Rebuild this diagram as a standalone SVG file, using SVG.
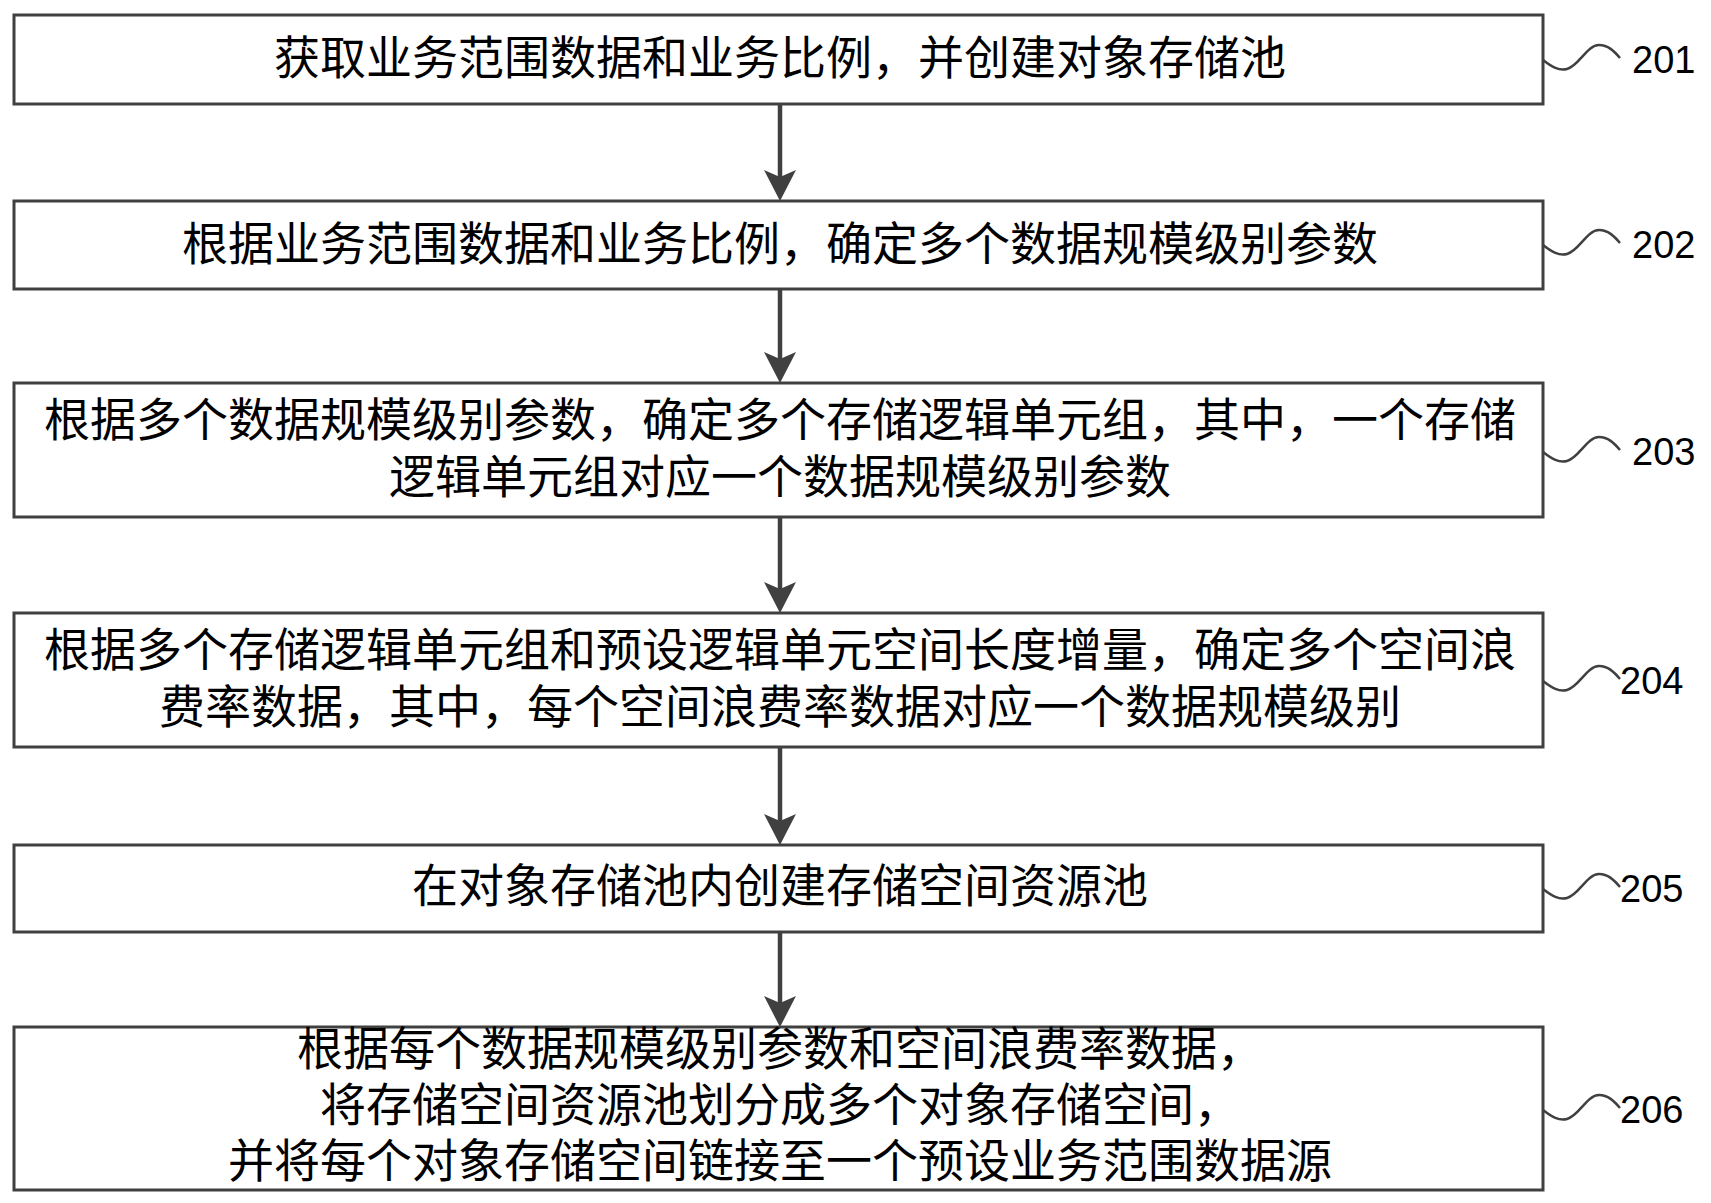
<svg xmlns="http://www.w3.org/2000/svg" width="1711" height="1203" viewBox="0 0 1711 1203">
<defs>
<style>
.box{fill:#fff;stroke:#404040;stroke-width:3}
.t{font-family:"Noto Sans CJK SC","Noto Sans CJK TC",sans-serif;font-size:46px;fill:#000;text-anchor:middle}
.lbl{font-family:"Liberation Sans","Open Sans",sans-serif;font-size:38px;fill:#000}
.wave{fill:none;stroke:#404040;stroke-width:2.5}
.conn{stroke:#404040;stroke-width:4.5;fill:none}
</style>
<marker id="ah" viewBox="0 0 32 32" markerWidth="32" markerHeight="32" refX="7" refY="16" orient="auto" markerUnits="userSpaceOnUse">
<path d="M0,0 L31,16 L0,32 L7,16 Z" fill="#404040"/>
</marker>
</defs>
<rect width="1711" height="1203" fill="#fff"/>
<g id="connectors">
<line class="conn" x1="780" y1="104" x2="780" y2="177" marker-end="url(#ah)"/>
<line class="conn" x1="780" y1="289" x2="780" y2="359" marker-end="url(#ah)"/>
<line class="conn" x1="780" y1="517" x2="780" y2="589" marker-end="url(#ah)"/>
<line class="conn" x1="780" y1="747" x2="780" y2="821" marker-end="url(#ah)"/>
<line class="conn" x1="780" y1="932" x2="780" y2="1003" marker-end="url(#ah)"/>
</g>
<g id="n201">
<rect class="box" x="14" y="15" width="1529" height="89"/>
<text class="t" x="780" y="74">获取业务范围数据和业务比例，并创建对象存储池</text>
<path class="wave" d="M1543,60 C1552,67 1559,71 1567,69 C1579,66 1587,45 1599,45 C1608,45 1614,51 1620,58"/>
<text class="lbl" x="1632" y="73">201</text>
</g>
<g id="n202">
<rect class="box" x="14" y="201" width="1529" height="88"/>
<text class="t" x="780" y="260">根据业务范围数据和业务比例，确定多个数据规模级别参数</text>
<path class="wave" d="M1543,245 C1552,252 1559,256 1567,254 C1579,251 1587,230 1599,230 C1608,230 1614,236 1620,243"/>
<text class="lbl" x="1632" y="258">202</text>
</g>
<g id="n203">
<rect class="box" x="14" y="383" width="1529" height="134"/>
<text class="t" x="780" y="436">根据多个数据规模级别参数，确定多个存储逻辑单元组，其中，一个存储</text>
<text class="t" x="780" y="493">逻辑单元组对应一个数据规模级别参数</text>
<path class="wave" d="M1543,452 C1552,459 1559,463 1567,461 C1579,458 1587,437 1599,437 C1608,437 1614,443 1620,450"/>
<text class="lbl" x="1632" y="465">203</text>
</g>
<g id="n204">
<rect class="box" x="14" y="613" width="1529" height="134"/>
<text class="t" x="780" y="666">根据多个存储逻辑单元组和预设逻辑单元空间长度增量，确定多个空间浪</text>
<text class="t" x="780" y="723">费率数据，其中，每个空间浪费率数据对应一个数据规模级别</text>
<path class="wave" d="M1543,681 C1552,688 1559,692 1567,690 C1579,687 1587,666 1599,666 C1608,666 1614,672 1620,679"/>
<text class="lbl" x="1620" y="694">204</text>
</g>
<g id="n205">
<rect class="box" x="14" y="845" width="1529" height="87"/>
<text class="t" x="780" y="902">在对象存储池内创建存储空间资源池</text>
<path class="wave" d="M1543,889 C1552,896 1559,900 1567,898 C1579,895 1587,874 1599,874 C1608,874 1614,880 1620,887"/>
<text class="lbl" x="1620" y="902">205</text>
</g>
<g id="n206">
<rect class="box" x="14" y="1027" width="1529" height="163"/>
<text class="t" x="780" y="1065">根据每个数据规模级别参数和空间浪费率数据，</text>
<text class="t" x="780" y="1121">将存储空间资源池划分成多个对象存储空间，</text>
<text class="t" x="780" y="1177">并将每个对象存储空间链接至一个预设业务范围数据源</text>
<path class="wave" d="M1543,1110 C1552,1117 1559,1121 1567,1119 C1579,1116 1587,1095 1599,1095 C1608,1095 1614,1101 1620,1108"/>
<text class="lbl" x="1620" y="1123">206</text>
</g>
</svg>
